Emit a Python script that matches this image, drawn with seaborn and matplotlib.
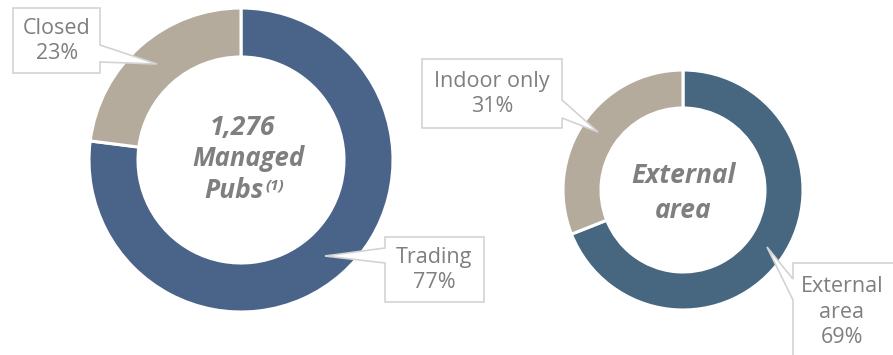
import matplotlib
matplotlib.use("Agg")
import matplotlib.pyplot as plt
from matplotlib.patches import Polygon
import seaborn as sns

# Estate status of managed pubs
status_labels = ["Trading", "Closed"]
status_values = [77, 23]

# Trading pubs split by outdoor space
space_labels = ["External\narea", "Indoor only"]
space_values = [69, 31]

sns.set_theme(style="white")
plt.rcParams["font.family"] = ["Open Sans", "DejaVu Sans"]

W, H = 893, 355
fig = plt.figure(figsize=(W / 100, H / 100), dpi=100)
ax = fig.add_axes([0, 0, 1, 1])

blue_left = "#4a6389"
blue_right = "#47667f"
tan = "#b5ab9d"
grey_text = "#7f7f7f"
box_edge = "#d3d3d3"


def Y(y):
    """Convert a top-down pixel row into the axes' bottom-up coordinate."""
    return H - y


# Left donut: managed estate
ax.pie(status_values, colors=[blue_left, tan], startangle=90, counterclock=False,
       center=(241, Y(160)), radius=152, frame=True,
       wedgeprops=dict(width=49, edgecolor="white", linewidth=2.2))

# Right donut: external area
ax.pie(space_values, colors=[blue_right, tan], startangle=90, counterclock=False,
       center=(683, Y(190)), radius=120, frame=True,
       wedgeprops=dict(width=38, edgecolor="white", linewidth=2.2))
ax.set_xlim(0, W)
ax.set_ylim(0, H)
ax.set_aspect("equal")
ax.axis("off")


def callout(points):
    poly = Polygon([(x, Y(y)) for x, y in points], closed=True,
                   facecolor="white", edgecolor=box_edge, linewidth=1.2,
                   zorder=3)
    ax.add_patch(poly)


def label(x, y, txt):
    ax.text(x, Y(y), txt, ha="center", va="center", fontsize=15.5,
            color=grey_text, linespacing=1.3, zorder=4)


# Callout boxes with pointers towards their segments
callout([(13, 8), (100, 8), (100, 45), (157, 64), (100, 62), (100, 73), (13, 73)])
callout([(385, 237), (484, 237), (484, 302), (385, 302), (385, 263), (325, 256),
         (385, 248)])
callout([(422, 59), (562, 59), (562, 100), (598, 132), (562, 118), (562, 128),
         (422, 128)])
callout([(793, 263), (900, 263), (900, 360), (793, 360), (793, 300), (767, 247),
         (793, 279)])

label(57, 41, f"{status_labels[1]}\n{status_values[1]}%")
label(434, 270, f"{status_labels[0]}\n{status_values[0]}%")
label(492, 94, f"{space_labels[1]}\n{space_values[1]}%")
label(842, 312, f"{space_labels[0]}\n{space_values[0]}%")

# Centre titles
center_kw = dict(ha="center", va="center", fontsize=19, fontweight="bold",
                 fontstyle="italic", color=grey_text)
ax.text(242, Y(127), "1,276", **center_kw)
ax.text(248, Y(159), "Managed", **{**center_kw, "fontsize": 18.5})
ax.text(264, Y(190), "Pubs", **{**center_kw, "ha": "right"})
ax.text(265, Y(185), "(1)", ha="left", va="center", fontsize=11,
        fontweight="bold", fontstyle="italic", color=grey_text)
ax.text(683, Y(193), "External\narea", linespacing=1.4, **center_kw)

fig.savefig("out.png", dpi=100)
